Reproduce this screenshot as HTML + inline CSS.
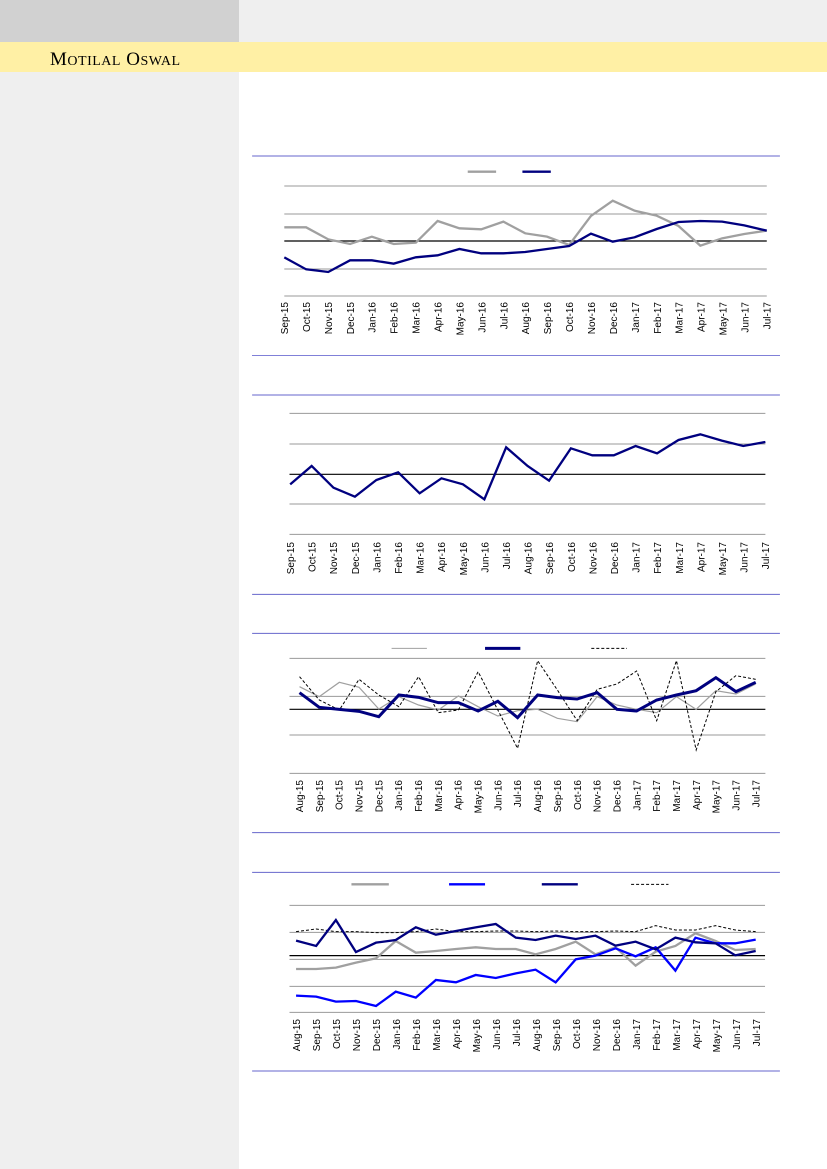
<!DOCTYPE html>
<html><head><meta charset="utf-8"><style>
html,body{margin:0;padding:0;width:827px;height:1169px;overflow:hidden;background:#fff}
svg{display:block}
text{font-family:"Liberation Sans",sans-serif;font-size:10px;fill:#000}
.g line,.g polyline{vector-effect:non-scaling-stroke;fill:none}
</style></head><body>
<svg width="827" height="1169" xmlns="http://www.w3.org/2000/svg">
<rect x="0" y="0" width="827" height="1169" fill="#fff"/>
<rect x="0" y="0" width="239" height="42" fill="#d1d1d1"/>
<rect x="239" y="0" width="588" height="42" fill="#efefef"/>
<rect x="0" y="42" width="827" height="30" fill="#fff0a5"/>
<rect x="0" y="72" width="239" height="1097" fill="#efefef"/>
<text x="50" y="65" style="font-family:'Liberation Serif',serif;font-size:19px;letter-spacing:0.5px">M<tspan style="font-size:14px">OTILAL</tspan> O<tspan style="font-size:14px">SWAL</tspan></text>

<!-- Chart 1 -->
<line x1="252" y1="355.5" x2="780" y2="355.5" stroke="#8080d8" stroke-width="1"/>
<g class="g" transform="translate(240,150) scale(0.3461,0.3333)">
<line x1="35" y1="18" x2="1560" y2="18" stroke="#6666cc" stroke-width="1"/>
<line x1="128" y1="108" x2="1522" y2="108" stroke="#999"/>
<line x1="128" y1="192" x2="1522" y2="192" stroke="#999"/>
<line x1="128" y1="357" x2="1522" y2="357" stroke="#999"/>
<line x1="128" y1="438" x2="1522" y2="438" stroke="#999"/>
<line x1="128" y1="273" x2="1522" y2="273" stroke="#000" stroke-width="1.2"/>
<line x1="658" y1="65" x2="740" y2="65" stroke="#a0a0a0" stroke-width="2.3"/>
<line x1="816" y1="65" x2="898" y2="65" stroke="#00007f" stroke-width="2.3"/>
<polyline stroke="#a0a0a0" stroke-width="2.3" points="128,232 191,232 255,268 318,282 381,260 444,282 508,278 571,213 634,235 697,238 761,215 824,250 887,260 951,285 1014,198 1077,152 1140,182 1204,197 1267,228 1330,287 1393,265 1457,252 1522,242"/>
<polyline stroke="#00007f" stroke-width="2.3" points="128,322 191,358 255,366 318,331 381,331 444,341 508,322 571,316 634,297 697,310 761,310 824,306 887,297 951,288 1014,251 1077,275 1140,262 1204,237 1267,216 1330,213 1393,215 1457,226 1522,242"/>
</g>
<g transform="translate(288,302)">
<text transform="translate(0,0) rotate(-90)" text-anchor="end">Sep-15</text>
<text transform="translate(21.93,0) rotate(-90)" text-anchor="end">Oct-15</text>
<text transform="translate(43.86,0) rotate(-90)" text-anchor="end">Nov-15</text>
<text transform="translate(65.79,0) rotate(-90)" text-anchor="end">Dec-15</text>
<text transform="translate(87.72,0) rotate(-90)" text-anchor="end">Jan-16</text>
<text transform="translate(109.65,0) rotate(-90)" text-anchor="end">Feb-16</text>
<text transform="translate(131.58,0) rotate(-90)" text-anchor="end">Mar-16</text>
<text transform="translate(153.51,0) rotate(-90)" text-anchor="end">Apr-16</text>
<text transform="translate(175.44,0) rotate(-90)" text-anchor="end">May-16</text>
<text transform="translate(197.37,0) rotate(-90)" text-anchor="end">Jun-16</text>
<text transform="translate(219.3,0) rotate(-90)" text-anchor="end">Jul-16</text>
<text transform="translate(241.23,0) rotate(-90)" text-anchor="end">Aug-16</text>
<text transform="translate(263.16,0) rotate(-90)" text-anchor="end">Sep-16</text>
<text transform="translate(285.09,0) rotate(-90)" text-anchor="end">Oct-16</text>
<text transform="translate(307.02,0) rotate(-90)" text-anchor="end">Nov-16</text>
<text transform="translate(328.95,0) rotate(-90)" text-anchor="end">Dec-16</text>
<text transform="translate(350.88,0) rotate(-90)" text-anchor="end">Jan-17</text>
<text transform="translate(372.81,0) rotate(-90)" text-anchor="end">Feb-17</text>
<text transform="translate(394.74,0) rotate(-90)" text-anchor="end">Mar-17</text>
<text transform="translate(416.67,0) rotate(-90)" text-anchor="end">Apr-17</text>
<text transform="translate(438.6,0) rotate(-90)" text-anchor="end">May-17</text>
<text transform="translate(460.53,0) rotate(-90)" text-anchor="end">Jun-17</text>
<text transform="translate(482.46,0) rotate(-90)" text-anchor="end">Jul-17</text>
</g>

<!-- Chart 2 -->
<g class="g" transform="translate(240,390) scale(0.3461,0.3333)">
<line x1="35" y1="15" x2="1560" y2="15" stroke="#6666cc"/>
<line x1="35" y1="613" x2="1560" y2="613" stroke="#6666cc"/>
<line x1="143" y1="70" x2="1518" y2="70" stroke="#999"/>
<line x1="143" y1="162" x2="1518" y2="162" stroke="#999"/>
<line x1="143" y1="342" x2="1518" y2="342" stroke="#999"/>
<line x1="143" y1="433" x2="1518" y2="433" stroke="#999"/>
<line x1="143" y1="253" x2="1518" y2="253" stroke="#000" stroke-width="1.2"/>
<polyline stroke="#00007f" stroke-width="2.3" points="145,283 207,228 270,293 332,320 394,270 457,247 519,310 582,265 644,283 706,328 769,172 831,228 893,272 956,175 1018,196 1080,196 1143,168 1205,190 1267,150 1330,133 1392,152 1454,168 1518,156"/>
</g>
<g transform="translate(294,542)">
<text transform="translate(0,0) rotate(-90)" text-anchor="end">Sep-15</text>
<text transform="translate(21.6,0) rotate(-90)" text-anchor="end">Oct-15</text>
<text transform="translate(43.2,0) rotate(-90)" text-anchor="end">Nov-15</text>
<text transform="translate(64.8,0) rotate(-90)" text-anchor="end">Dec-15</text>
<text transform="translate(86.4,0) rotate(-90)" text-anchor="end">Jan-16</text>
<text transform="translate(108,0) rotate(-90)" text-anchor="end">Feb-16</text>
<text transform="translate(129.6,0) rotate(-90)" text-anchor="end">Mar-16</text>
<text transform="translate(151.2,0) rotate(-90)" text-anchor="end">Apr-16</text>
<text transform="translate(172.8,0) rotate(-90)" text-anchor="end">May-16</text>
<text transform="translate(194.4,0) rotate(-90)" text-anchor="end">Jun-16</text>
<text transform="translate(216,0) rotate(-90)" text-anchor="end">Jul-16</text>
<text transform="translate(237.6,0) rotate(-90)" text-anchor="end">Aug-16</text>
<text transform="translate(259.2,0) rotate(-90)" text-anchor="end">Sep-16</text>
<text transform="translate(280.8,0) rotate(-90)" text-anchor="end">Oct-16</text>
<text transform="translate(302.4,0) rotate(-90)" text-anchor="end">Nov-16</text>
<text transform="translate(324,0) rotate(-90)" text-anchor="end">Dec-16</text>
<text transform="translate(345.6,0) rotate(-90)" text-anchor="end">Jan-17</text>
<text transform="translate(367.2,0) rotate(-90)" text-anchor="end">Feb-17</text>
<text transform="translate(388.8,0) rotate(-90)" text-anchor="end">Mar-17</text>
<text transform="translate(410.4,0) rotate(-90)" text-anchor="end">Apr-17</text>
<text transform="translate(432,0) rotate(-90)" text-anchor="end">May-17</text>
<text transform="translate(453.6,0) rotate(-90)" text-anchor="end">Jun-17</text>
<text transform="translate(475.2,0) rotate(-90)" text-anchor="end">Jul-17</text>
</g>

<!-- Chart 3 -->
<g class="g" transform="translate(240,630) scale(0.3461,0.3333)">
<line x1="35" y1="10" x2="1560" y2="10" stroke="#6666cc"/>
<line x1="35" y1="608" x2="1560" y2="608" stroke="#6666cc"/>
<line x1="143" y1="85" x2="1518" y2="85" stroke="#999"/>
<line x1="143" y1="199" x2="1518" y2="199" stroke="#999"/>
<line x1="143" y1="315" x2="1518" y2="315" stroke="#999"/>
<line x1="143" y1="430" x2="1518" y2="430" stroke="#999"/>
<line x1="143" y1="238" x2="1518" y2="238" stroke="#000" stroke-width="1.2"/>
<line x1="438" y1="55" x2="540" y2="55" stroke="#a0a0a0" stroke-width="1"/>
<line x1="708" y1="55" x2="810" y2="55" stroke="#00007f" stroke-width="3"/>
<line x1="1015" y1="55" x2="1118" y2="55" stroke="#000" stroke-width="1" stroke-dasharray="3,2"/>
<polyline stroke="#a0a0a0" stroke-width="1.2" points="172,170 229,200 287,157 344,172 401,237 459,200 516,225 573,240 631,198 688,230 745,258 802,242 860,238 917,265 974,275 1032,200 1089,225 1146,238 1204,248 1261,200 1318,238 1375,182 1433,192 1490,162"/>
<polyline stroke="#000" stroke-width="1" stroke-dasharray="3,2" points="172,140 229,210 287,240 344,148 401,195 459,230 516,140 573,248 631,240 688,125 745,240 802,355 860,92 917,180 974,272 1032,178 1089,162 1146,123 1204,272 1261,92 1318,360 1375,185 1433,137 1490,148"/>
<polyline stroke="#00007f" stroke-width="3" points="172,188 229,232 287,238 344,244 401,260 459,195 516,202 573,218 631,218 688,243 745,214 802,263 860,195 917,203 974,207 1032,188 1089,238 1146,243 1204,210 1261,195 1318,182 1375,143 1433,185 1490,157"/>
</g>
<g transform="translate(303,780)">
<text transform="translate(0,0) rotate(-90)" text-anchor="end">Aug-15</text>
<text transform="translate(19.84,0) rotate(-90)" text-anchor="end">Sep-15</text>
<text transform="translate(39.68,0) rotate(-90)" text-anchor="end">Oct-15</text>
<text transform="translate(59.52,0) rotate(-90)" text-anchor="end">Nov-15</text>
<text transform="translate(79.36,0) rotate(-90)" text-anchor="end">Dec-15</text>
<text transform="translate(99.2,0) rotate(-90)" text-anchor="end">Jan-16</text>
<text transform="translate(119.04,0) rotate(-90)" text-anchor="end">Feb-16</text>
<text transform="translate(138.88,0) rotate(-90)" text-anchor="end">Mar-16</text>
<text transform="translate(158.72,0) rotate(-90)" text-anchor="end">Apr-16</text>
<text transform="translate(178.56,0) rotate(-90)" text-anchor="end">May-16</text>
<text transform="translate(198.4,0) rotate(-90)" text-anchor="end">Jun-16</text>
<text transform="translate(218.24,0) rotate(-90)" text-anchor="end">Jul-16</text>
<text transform="translate(238.08,0) rotate(-90)" text-anchor="end">Aug-16</text>
<text transform="translate(257.92,0) rotate(-90)" text-anchor="end">Sep-16</text>
<text transform="translate(277.76,0) rotate(-90)" text-anchor="end">Oct-16</text>
<text transform="translate(297.6,0) rotate(-90)" text-anchor="end">Nov-16</text>
<text transform="translate(317.44,0) rotate(-90)" text-anchor="end">Dec-16</text>
<text transform="translate(337.28,0) rotate(-90)" text-anchor="end">Jan-17</text>
<text transform="translate(357.12,0) rotate(-90)" text-anchor="end">Feb-17</text>
<text transform="translate(376.96,0) rotate(-90)" text-anchor="end">Mar-17</text>
<text transform="translate(396.8,0) rotate(-90)" text-anchor="end">Apr-17</text>
<text transform="translate(416.64,0) rotate(-90)" text-anchor="end">May-17</text>
<text transform="translate(436.48,0) rotate(-90)" text-anchor="end">Jun-17</text>
<text transform="translate(456.32,0) rotate(-90)" text-anchor="end">Jul-17</text>
</g>

<!-- Chart 4 -->
<g class="g" transform="translate(240,860) scale(0.3461,0.3333)">
<line x1="35" y1="37" x2="1560" y2="37" stroke="#6666cc"/>
<line x1="35" y1="633" x2="1560" y2="633" stroke="#6666cc"/>
<line x1="143" y1="136" x2="1517" y2="136" stroke="#999"/>
<line x1="143" y1="217" x2="1517" y2="217" stroke="#999"/>
<line x1="143" y1="298" x2="1517" y2="298" stroke="#999"/>
<line x1="143" y1="379" x2="1517" y2="379" stroke="#999"/>
<line x1="143" y1="457" x2="1517" y2="457" stroke="#999"/>
<line x1="143" y1="287" x2="1517" y2="287" stroke="#000" stroke-width="1.3"/>
<line x1="322" y1="73" x2="430" y2="73" stroke="#a0a0a0" stroke-width="2.3"/>
<line x1="604" y1="73" x2="708" y2="73" stroke="#0000ff" stroke-width="2.3"/>
<line x1="872" y1="73" x2="976" y2="73" stroke="#00007f" stroke-width="2.3"/>
<line x1="1130" y1="73" x2="1238" y2="73" stroke="#000" stroke-width="1" stroke-dasharray="3,2"/>
<polyline stroke="#000" stroke-width="1" stroke-dasharray="3,2" points="162,215 220,207 277,215 335,215 393,218 450,218 508,215 566,207 624,215 681,215 739,213 797,213 854,215 912,213 970,215 1027,215 1085,213 1143,215 1201,197 1258,210 1316,210 1374,197 1431,210 1490,215"/>
<polyline stroke="#a0a0a0" stroke-width="2.3" points="162,327 220,327 277,323 335,308 393,295 450,243 508,278 566,273 624,267 681,262 739,267 797,267 854,283 912,267 970,245 1027,283 1085,262 1143,317 1201,275 1258,258 1316,220 1374,243 1431,270 1490,267"/>
<polyline stroke="#0000ff" stroke-width="2.3" points="162,407 220,410 277,425 335,423 393,438 450,395 508,413 566,360 624,367 681,345 739,354 797,340 854,329 912,367 970,298 1027,287 1085,265 1143,289 1201,262 1258,332 1316,233 1374,250 1431,250 1490,239"/>
<polyline stroke="#00007f" stroke-width="2.3" points="162,242 220,258 277,180 335,276 393,248 450,240 508,202 566,224 624,213 681,202 739,192 797,233 854,240 912,227 970,237 1027,227 1085,257 1143,245 1201,268 1258,233 1316,247 1374,250 1431,286 1490,273"/>
</g>
<g transform="translate(300,1019)">
<text transform="translate(0,0) rotate(-90)" text-anchor="end">Aug-15</text>
<text transform="translate(19.99,0) rotate(-90)" text-anchor="end">Sep-15</text>
<text transform="translate(39.98,0) rotate(-90)" text-anchor="end">Oct-15</text>
<text transform="translate(59.97,0) rotate(-90)" text-anchor="end">Nov-15</text>
<text transform="translate(79.96,0) rotate(-90)" text-anchor="end">Dec-15</text>
<text transform="translate(99.95,0) rotate(-90)" text-anchor="end">Jan-16</text>
<text transform="translate(119.94,0) rotate(-90)" text-anchor="end">Feb-16</text>
<text transform="translate(139.93,0) rotate(-90)" text-anchor="end">Mar-16</text>
<text transform="translate(159.92,0) rotate(-90)" text-anchor="end">Apr-16</text>
<text transform="translate(179.91,0) rotate(-90)" text-anchor="end">May-16</text>
<text transform="translate(199.9,0) rotate(-90)" text-anchor="end">Jun-16</text>
<text transform="translate(219.89,0) rotate(-90)" text-anchor="end">Jul-16</text>
<text transform="translate(239.88,0) rotate(-90)" text-anchor="end">Aug-16</text>
<text transform="translate(259.87,0) rotate(-90)" text-anchor="end">Sep-16</text>
<text transform="translate(279.86,0) rotate(-90)" text-anchor="end">Oct-16</text>
<text transform="translate(299.85,0) rotate(-90)" text-anchor="end">Nov-16</text>
<text transform="translate(319.84,0) rotate(-90)" text-anchor="end">Dec-16</text>
<text transform="translate(339.83,0) rotate(-90)" text-anchor="end">Jan-17</text>
<text transform="translate(359.82,0) rotate(-90)" text-anchor="end">Feb-17</text>
<text transform="translate(379.81,0) rotate(-90)" text-anchor="end">Mar-17</text>
<text transform="translate(399.8,0) rotate(-90)" text-anchor="end">Apr-17</text>
<text transform="translate(419.79,0) rotate(-90)" text-anchor="end">May-17</text>
<text transform="translate(439.78,0) rotate(-90)" text-anchor="end">Jun-17</text>
<text transform="translate(459.77,0) rotate(-90)" text-anchor="end">Jul-17</text>
</g>
</svg>
</body></html>
